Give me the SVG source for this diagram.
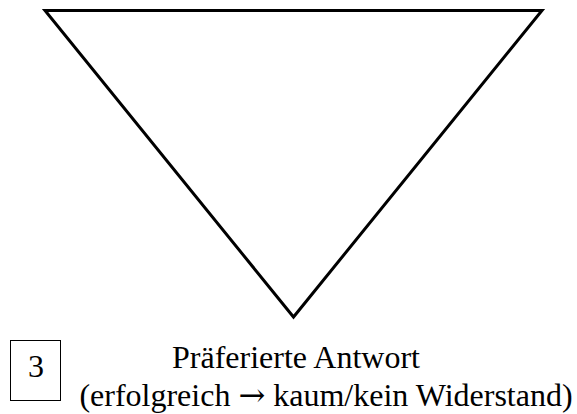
<svg xmlns="http://www.w3.org/2000/svg" width="577" height="414" viewBox="0 0 577 414">
<style>
.t{font-family:"Liberation Serif","Times New Roman",serif;font-size:32px;fill:#000}
.arr{font-family:"DejaVu Serif",serif}
</style>
<rect width="577" height="414" fill="#fff"/>
<g id="triangle">
<polygon points="45,10.5 542,10.5 293.5,317" fill="#fff" stroke="#000" stroke-width="3" stroke-linejoin="miter"/>
</g>
<g id="label-box">
<rect x="10.5" y="340.5" width="50" height="60" fill="none" stroke="#000" stroke-width="1"/>
<text class="t" x="36" y="377" text-anchor="middle">3</text>
</g>
<g id="caption">
<text class="t" x="296" y="368" text-anchor="middle">Präferierte Antwort</text>
<text class="t" x="326" y="406" text-anchor="middle">(erfolgreich <tspan class="arr">→</tspan> kaum/kein Widerstand)</text>
</g>
<g id="connectors"/>
</svg>
